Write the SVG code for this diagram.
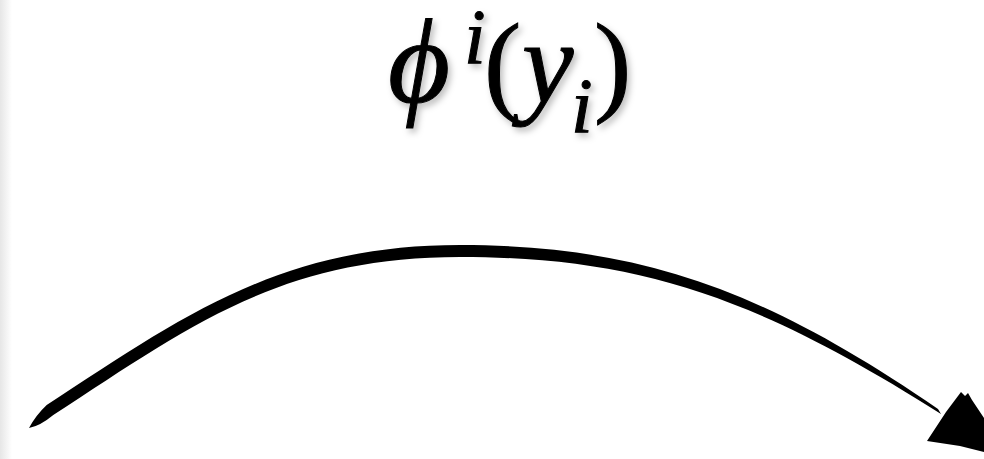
<svg xmlns="http://www.w3.org/2000/svg" width="984" height="459" viewBox="0 0 984 459">
<defs>
<linearGradient id="edge" x1="0" y1="0" x2="1" y2="0">
<stop offset="0" stop-color="#e6e6e6"/>
<stop offset="1" stop-color="#ffffff"/>
</linearGradient>
<filter id="shadow" x="-20%" y="-20%" width="140%" height="150%">
<feDropShadow dx="3" dy="4" stdDeviation="3" flood-color="#000" flood-opacity="0.25"/>
</filter>
<style>
.m{font-family:"Liberation Serif","Times New Roman",serif;fill:#000;stroke:#000;stroke-width:1;}
.it{font-style:italic;}
.ph{font-size:120px;}
.pa{font-size:112px;}
.yy{font-size:116px;}
.sm{font-size:78px;}
</style>
</defs>
<rect width="984" height="459" fill="#fff"/>
<rect x="0" y="0" width="12" height="459" fill="url(#edge)"/>
<g id="label" filter="url(#shadow)">
<text class="m it ph" x="388" y="102">ϕ</text>
<text class="m it sm" x="464" y="63">i</text>
<text class="m pa" x="484" y="101">(</text>
<text class="m it yy" x="522" y="102">y</text>
<text class="m it sm" x="571" y="132">i</text>
<text class="m pa" x="594" y="101">)</text>
</g>
<g id="connectors">
<path id="arc" fill="#000" d="M29,428 Q36,415 46.7,405 C181.7,317 280,245 460,245 C640,245.5 763,289 938,409 L941,414 C758,298 640,257 460,257 C280,257 188.3,327 53.3,415 Q40,426 29,428 Z"/>
<path id="arrowhead" fill="#000" d="M927,441 L946,412 L958,396 L961,392 L965,396 L968,393 L972,400 L984,418 L984,452 L960,446 Z"/>
</g>
</svg>
